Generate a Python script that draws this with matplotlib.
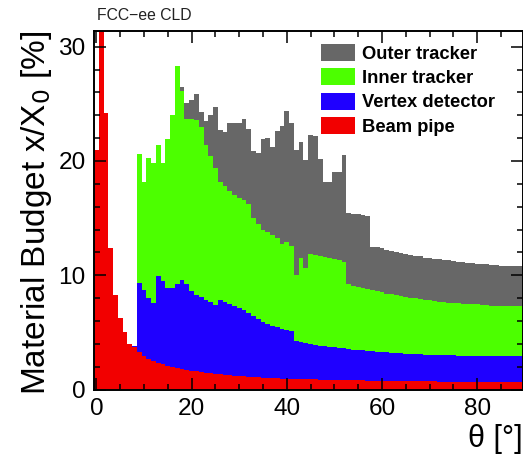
import numpy as np
import matplotlib
matplotlib.use("Agg")
import matplotlib.pyplot as plt
from matplotlib.patches import Patch
from matplotlib.ticker import MultipleLocator

plt.rcParams["font.family"] = ["Liberation Sans", "DejaVu Sans"]

# theta bins of 1 degree centred on integers (ROOT style)
theta_edges = np.arange(-0.5, 90.0, 1.0)

# cumulative stack tops per bin [%] (0 = component absent)
beam_pipe_top = [
    21.0, 45.0, 24.2, 12.4, 8.3, 6.25, 5.07, 4.0, 3.75, 3.3,
    2.95, 2.7, 2.5, 2.35, 2.2, 2.1, 2.0, 1.9, 1.8, 1.72,
    1.65, 1.58, 1.52, 1.46, 1.41, 1.36, 1.32, 1.28, 1.24, 1.2,
    1.17, 1.14, 1.11, 1.08, 1.06, 1.04, 1.02, 1.0, 0.98, 0.96,
    0.95, 0.93, 0.92, 0.91, 0.9, 0.89, 0.88, 0.87, 0.86, 0.85,
    0.84, 0.83, 0.82, 0.81, 0.8, 0.8, 0.79, 0.78, 0.78, 0.77,
    0.76, 0.76, 0.75, 0.75, 0.74, 0.74, 0.73, 0.73, 0.72, 0.72,
    0.71, 0.71, 0.7, 0.7, 0.7, 0.69, 0.69, 0.69, 0.68, 0.68,
    0.68, 0.68, 0.67, 0.67, 0.67, 0.67, 0.67, 0.66, 0.66, 0.66,
]
vertex_top = [
    0, 0, 0, 0, 0, 0, 0, 0, 3.85, 9.3,
    8.7, 8.0, 7.6, 9.96, 9.46, 8.9, 8.9, 9.2, 9.6, 9.2,
    8.6, 8.3, 8.1, 7.85, 7.7, 7.4, 7.85, 7.7, 7.5, 7.3,
    7.1, 7.0, 6.7, 6.4, 6.2, 5.95, 5.75, 5.6, 5.45, 5.3,
    5.2, 5.1, 4.25, 4.15, 4.05, 3.95, 3.9, 3.85, 3.8, 3.75,
    3.7, 3.65, 3.6, 3.55, 3.5, 3.46, 3.42, 3.38, 3.34, 3.3,
    3.27, 3.24, 3.21, 3.18, 3.16, 3.14, 3.12, 3.1, 3.08, 3.06,
    3.04, 3.03, 3.02, 3.0, 2.99, 2.98, 2.97, 2.96, 2.95, 2.94,
    2.93, 2.93, 2.92, 2.92, 2.91, 2.91, 2.9, 2.9, 2.9, 2.9,
]
inner_top = [
    0, 0, 0, 0, 0, 0, 0, 0, 0, 20.6,
    18.2, 20.3, 19.8, 21.4, 19.8, 21.9, 24.0, 28.3, 26.1, 23.7,
    23.7, 23.6, 23.0, 21.4, 20.4, 19.4, 18.2, 17.8, 17.35, 17.06,
    16.8, 16.6, 16.2, 15.0, 14.5, 14.0, 13.8, 13.5, 13.3, 12.7,
    12.9, 12.6, 10.0, 11.5, 10.6, 11.9, 11.8, 11.7, 11.6, 11.5,
    11.4, 11.3, 11.2, 9.2, 9.1, 9.0, 8.9, 8.8, 8.7, 8.6,
    8.5, 8.4, 8.35, 8.25, 8.2, 8.1, 8.05, 8.0, 7.9, 7.85,
    7.8, 7.75, 7.7, 7.65, 7.6, 7.6, 7.55, 7.5, 7.5, 7.45,
    7.45, 7.4, 7.4, 7.35, 7.35, 7.35, 7.3, 7.3, 7.3, 7.3,
]
outer_top = [
    0, 0, 0, 0, 0, 0, 0, 0, 0, 0,
    0, 0, 0, 0, 0, 0, 0, 0, 26.5, 25.1,
    25.3, 25.9, 24.3, 23.5, 24.0, 24.7, 22.7, 22.5, 23.3, 23.35,
    23.3, 23.7, 22.8, 20.9, 20.7, 21.9, 22.0, 21.2, 22.6, 23.1,
    24.4, 23.3, 21.0, 21.7, 20.1, 22.3, 22.2, 20.2, 18.2, 18.2,
    19.0, 19.0, 20.5, 15.45, 15.4, 15.35, 15.3, 15.2, 12.5, 12.5,
    12.4, 12.2, 12.1, 12.0, 11.95, 11.85, 11.8, 11.7, 11.65, 11.55,
    11.5, 11.45, 11.4, 11.35, 11.3, 11.25, 11.2, 11.15, 11.1, 11.05,
    11.0, 11.0, 10.95, 10.9, 10.9, 10.85, 10.85, 10.8, 10.8, 10.8,
]

labels = ["Outer tracker", "Inner tracker", "Vertex detector", "Beam pipe"]
colors = ["#676767", "#4cff00", "#1f00ff", "#f20000"]
tops = [outer_top, inner_top, vertex_top, beam_pipe_top]

W, H = 523, 457
fig = plt.figure(figsize=(W / 100, H / 100), dpi=100)
ax = fig.add_axes([94 / W, 1 - 389.5 / H, 428.5 / W, 359 / H])

# draw from the top of the stack down so lower components cover upper ones
for top, color in zip(tops, colors):
    y = np.append(top, top[-1])
    ax.fill_between(theta_edges, y, 0, step="post", facecolor=color,
                    edgecolor="none", lw=0)

ax.set_xlim(-0.5, 89.5)
ax.set_ylim(0, 31.42)

ax.xaxis.set_major_locator(MultipleLocator(20))
ax.xaxis.set_minor_locator(MultipleLocator(5))
ax.yaxis.set_major_locator(MultipleLocator(10))
ax.yaxis.set_minor_locator(MultipleLocator(2))
ax.tick_params(which="both", direction="in", top=True, right=True,
               width=1.1, labelsize=17.6)
ax.tick_params(which="major", length=8.6)
ax.tick_params(which="minor", length=4.3)
ax.tick_params(axis="x", pad=6)
ax.tick_params(axis="y", pad=6)
for sp in ax.spines.values():
    sp.set_linewidth(1.4)
ax.set_axisbelow(False)

ax.set_xlabel("θ [°]", fontsize=22, loc="right", labelpad=3)
ax.set_ylabel("Material Budget x/X$_0$ [%]", fontsize=24, loc="top",
              labelpad=3)

handles = [Patch(facecolor=c, edgecolor="none") for c in colors]
ax.legend(handles, labels, loc="upper right", frameon=False,
          bbox_to_anchor=(0.935, 0.962),
          prop={"weight": "bold", "size": 13.2},
          handlelength=1.86, handleheight=1.03, handletextpad=0.38,
          labelspacing=0.31, borderaxespad=0, borderpad=0)

fig.text(97 / W, 1 - 20.5 / H, "FCC\u2212ee CLD", fontsize=11.3, color="#222222",
         ha="left", va="baseline")

fig.savefig("out.png", dpi=100)
